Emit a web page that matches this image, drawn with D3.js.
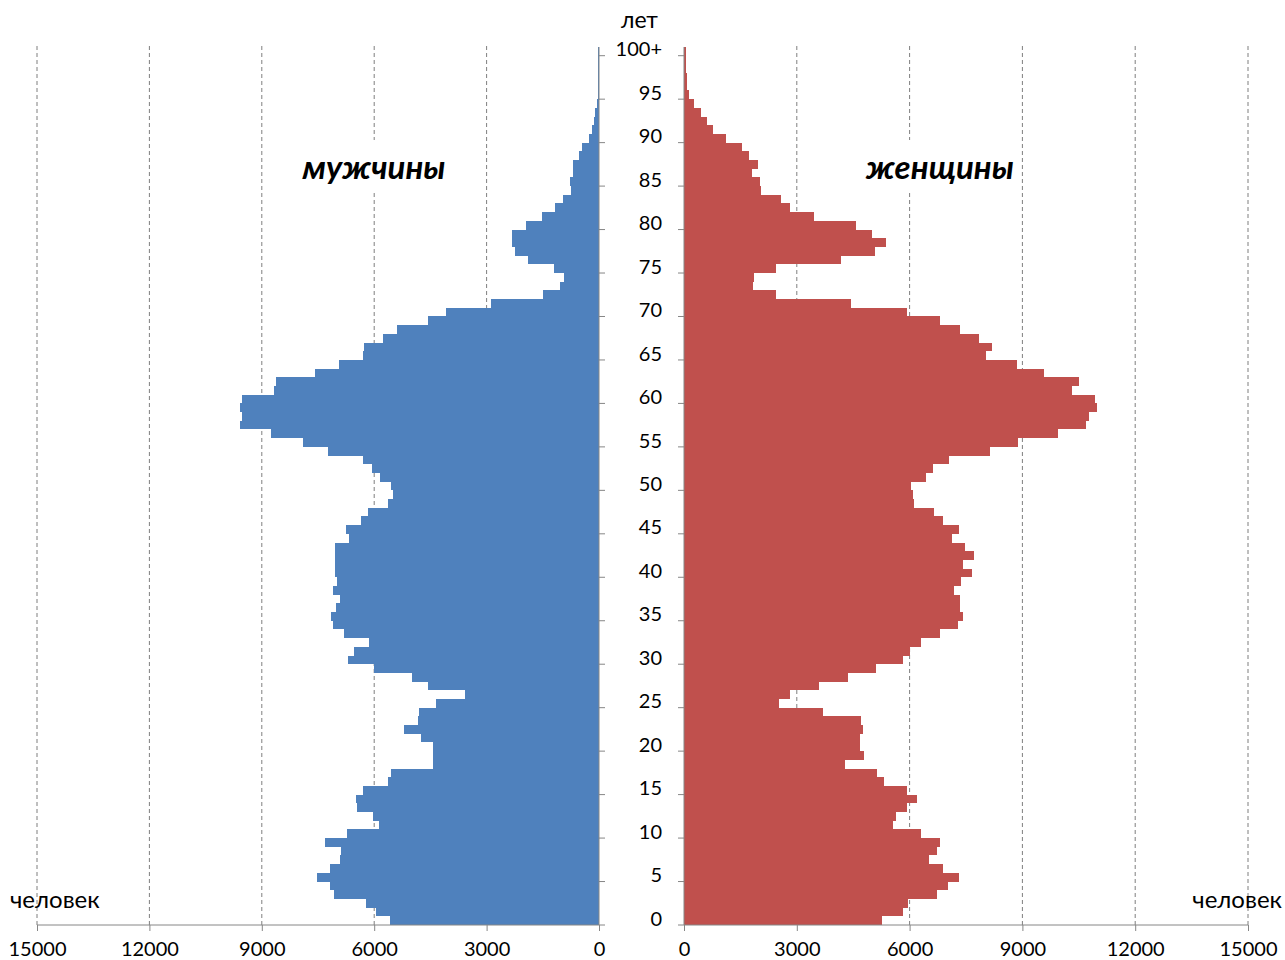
<!DOCTYPE html>
<html>
<head>
<meta charset="utf-8">
<script src="https://d3js.org/d3.v7.min.js"></script>
<style>
  body { margin: 0; background: #fff; }
  svg text { font-family: Lato, "Open Sans", sans-serif; fill: #000; }
</style>
</head>
<body>
<svg id="chart" width="1285" height="960"></svg>
<script>
// age groups 0..99 and 100+
const ages = d3.range(0, 101).map(d => d === 100 ? "100+" : String(d));

// men, persons by single year of age
const men = [5580, 5950, 6220, 7080, 7190, 7520, 7190, 6920, 6890, 7310,
  6720, 5870, 6030, 6450, 6490, 6300, 5620, 5560, 4440, 4440,
  4440, 4740, 5200, 4830, 4800, 4340, 3570, 4560, 5000, 6010,
  6700, 6540, 6130, 6810, 7100, 7160, 7030, 6920, 7100, 6990,
  7050, 7050, 7050, 7050, 6670, 6760, 6360, 6160, 5630, 5490,
  5560, 5850, 6050, 6300, 7220, 7900, 8750, 9570, 9540, 9570,
  9540, 8680, 8610, 7580, 6950, 6310, 6260, 5760, 5400, 4560,
  4090, 2870, 1500, 1040, 930, 1200, 1900, 2240, 2310, 2310,
  1950, 1530, 1180, 970, 760, 780, 690, 700, 530, 450,
  260, 200, 130, 100, 60, 40, 36, 30, 28, 25,
  25];

// women
const women = [5260, 5820, 5950, 6740, 7010, 7310, 6900, 6520, 6720, 6810,
  6290, 5560, 5630, 5920, 6190, 5920, 5330, 5140, 4280, 4800,
  4670, 4670, 4760, 4700, 3710, 2530, 2810, 3580, 4370, 5100,
  5820, 6020, 6290, 6810, 7300, 7430, 7330, 7330, 7170, 7360,
  7670, 7430, 7700, 7470, 7120, 7310, 6890, 6650, 6130, 6090,
  6040, 6440, 6620, 7060, 8130, 8890, 9940, 10700, 10760, 10980,
  10940, 10310, 10500, 9580, 8850, 8020, 8200, 7840, 7330, 6800,
  5930, 4430, 2440, 1840, 1860, 2440, 4170, 5090, 5360, 4990,
  4570, 3470, 2810, 2590, 2060, 2020, 1810, 1970, 1740, 1530,
  1130, 780, 600, 440, 270, 140, 90, 70, 50, 40,
  40];

const xTicks = [0, 3000, 6000, 9000, 12000, 15000];
const ageLabels = ["0", "5", "10", "15", "20", "25", "30", "35", "40", "45", "50",
  "55", "60", "65", "70", "75", "80", "85", "90", "95", "100+"];

const svg = d3.select("#chart");

const bottom = 925;
const rowH = 8.693;
const y = d3.scaleBand().domain(ages).range([bottom, bottom - rowH * ages.length]).padding(0);

const xL = d3.scaleLinear().domain([0, 15000]).range([599, 37]);
const xR = d3.scaleLinear().domain([0, 15000]).range([684, 1248]);

const gridTop = 46;
const axisColor = "#868686";

// dashed gridlines
const grid = svg.append("g");
xTicks.filter(d => d > 0).forEach(t => {
  [xL, xR].forEach(sc => {
    grid.append("line")
      .attr("x1", sc(t)).attr("x2", sc(t))
      .attr("y1", gridTop).attr("y2", bottom)
      .attr("stroke", "#7f7f7f")
      .attr("stroke-width", 1)
      .attr("stroke-dasharray", "4,3");
  });
});

// bars
svg.append("g").selectAll("rect").data(men).join("rect")
  .attr("x", d => xL(d))
  .attr("y", (d, i) => y(ages[i]))
  .attr("width", d => xL(0) - xL(d))
  .attr("height", y.bandwidth())
  .attr("fill", "#4F81BD")
  .attr("shape-rendering", "crispEdges");

svg.append("g").selectAll("rect").data(women).join("rect")
  .attr("x", xR(0))
  .attr("y", (d, i) => y(ages[i]))
  .attr("width", d => xR(d) - xR(0))
  .attr("height", y.bandwidth())
  .attr("fill", "#C0504D")
  .attr("shape-rendering", "crispEdges");

// x axes
const axL = d3.axisBottom(xL).tickValues(xTicks).tickSize(6).tickFormat(d3.format("d"));
const axR = d3.axisBottom(xR).tickValues(xTicks).tickSize(6).tickFormat(d3.format("d"));
[axL, axR].forEach(ax => {
  const g = svg.append("g").attr("transform", `translate(0,${bottom})`).call(ax);
  g.select(".domain").remove();
  g.selectAll(".tick line").attr("stroke", axisColor);
  g.selectAll(".tick text")
    .attr("y", 23).attr("dy", null)
    .attr("dominant-baseline", "central")
    .attr("font-size", 20).attr("fill", "#000");
});
svg.append("line").attr("x1", xL(15000)).attr("x2", xL(0)).attr("y1", bottom).attr("y2", bottom).attr("stroke", axisColor);
svg.append("line").attr("x1", xR(0)).attr("x2", xR(15000)).attr("y1", bottom).attr("y2", bottom).attr("stroke", axisColor);

// vertical axes
const axisTop = y("100+");
svg.append("line").attr("x1", xL(0)).attr("x2", xL(0)).attr("y1", axisTop).attr("y2", bottom).attr("stroke", axisColor);
svg.append("line").attr("x1", xR(0)).attr("x2", xR(0)).attr("y1", axisTop).attr("y2", bottom).attr("stroke", axisColor);

ageLabels.forEach(a => {
  const ty = y(a) + y.bandwidth();
  svg.append("line").attr("x1", xL(0)).attr("x2", xL(0) + 6).attr("y1", ty).attr("y2", ty).attr("stroke", axisColor);
  svg.append("line").attr("x1", xR(0) - 6).attr("x2", xR(0)).attr("y1", ty).attr("y2", ty).attr("stroke", axisColor);
  svg.append("text")
    .attr("x", 662)
    .attr("y", y(a) + y.bandwidth() / 2 - 3)
    .attr("text-anchor", "end")
    .attr("dominant-baseline", "central")
    .attr("font-size", 20)
    .text(a);
});

// axis titles
svg.append("text").attr("x", 658).attr("y", 19).attr("text-anchor", "end")
  .attr("dominant-baseline", "central").attr("font-size", 23).text("лет");
svg.append("text").attr("x", 10).attr("y", 898)
  .attr("dominant-baseline", "central").attr("font-size", 24).text("человек");
svg.append("text").attr("x", 1282).attr("y", 898).attr("text-anchor", "end")
  .attr("dominant-baseline", "central").attr("font-size", 24).text("человек");

// series labels with white box
function seriesLabel(txt, cx) {
  const g = svg.append("g");
  const box = g.append("rect").attr("fill", "#fff");
  const t = g.append("text")
    .attr("x", cx).attr("y", 166)
    .attr("text-anchor", "middle")
    .attr("dominant-baseline", "central")
    .attr("font-size", 33)
    .attr("font-weight", "bold")
    .attr("font-style", "italic")
    .text(txt);
  const bb = t.node().getBBox();
  box.attr("x", bb.x - 4).attr("y", 140).attr("width", bb.width + 8).attr("height", 51);
}
seriesLabel("мужчины", 374);
seriesLabel("женщины", 940);
</script>
</body>
</html>
